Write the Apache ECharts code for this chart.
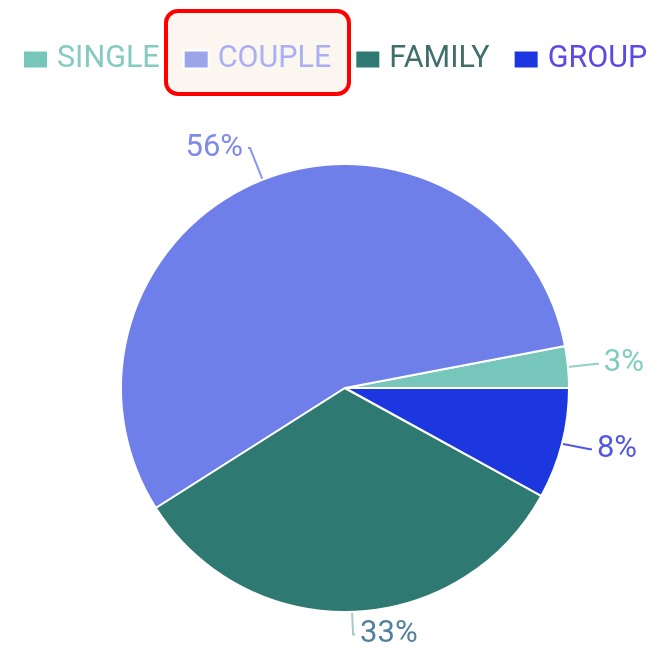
<!DOCTYPE html>
<html>
<head>
<meta charset="utf-8">
<script src="https://cdn.jsdelivr.net/npm/echarts@6/dist/echarts.min.js"></script>
<style>
  html, body { margin: 0; padding: 0; background: #fff; }
  #chart { width: 654px; height: 651px; }
</style>
</head>
<body>
<div id="chart"></div>
<script>
var categories = ['SINGLE', 'COUPLE', 'FAMILY', 'GROUP'];
var values = [3, 56, 33, 8];
var sliceColors = ['#76c6bc', '#6e7fea', '#2e7a72', '#1c37e0'];
var labelColors = ['#80cbc2', '#7f8aeb', '#50809e', '#5356e2'];
var lineColors = ['#8fd0c8', '#8a95ee', '#a6cbc6', '#4e58e0'];
var legendTextColors = ['#86cbc2', '#aab0f2', '#3f6f6a', '#5a4ae6'];
var legendIconColors = ['#76c6bc', '#9ca4ea', '#2e7a72', '#1c37e0'];

var chart = echarts.init(document.getElementById('chart'));

var pieData = categories.map(function (name, i) {
    return {
        name: name,
        value: values[i],
        itemStyle: { color: sliceColors[i] },
        label: { color: labelColors[i] },
        labelLine: { lineStyle: { color: lineColors[i] } }
    };
});

var legendData = categories.map(function (name, i) {
    return {
        name: name,
        itemStyle: { color: legendIconColors[i] },
        textStyle: { color: legendTextColors[i] }
    };
});

chart.setOption({
    animation: false,
    graphic: [{
        type: 'rect',
        z: 0,
        shape: { x: 166, y: 11, width: 183, height: 83, r: 12 },
        style: { fill: '#fbf6f0', stroke: '#ff0000', lineWidth: 4 }
    }],
    legend: {
        data: legendData,
        top: 39,
        left: 17,
        z: 10,
        icon: 'rect',
        itemWidth: 25,
        itemHeight: 18,
        itemGap: 23,
        textStyle: { fontSize: 30.5, fontFamily: 'Roboto', padding: [0, 0, 0, 4] }
    },
    series: [{
        type: 'pie',
        center: [345, 388],
        radius: 224,
        startAngle: 0,
        clockwise: false,
        data: pieData,
        itemStyle: { borderColor: '#ffffff', borderWidth: 2 },
        label: {
            formatter: '{d}%',
            fontSize: 31,
            fontFamily: 'Roboto'
        },
        labelLine: {
            length: 34,
            length2: 2,
            lineStyle: { width: 2 }
        }
    }]
});
</script>
</body>
</html>
